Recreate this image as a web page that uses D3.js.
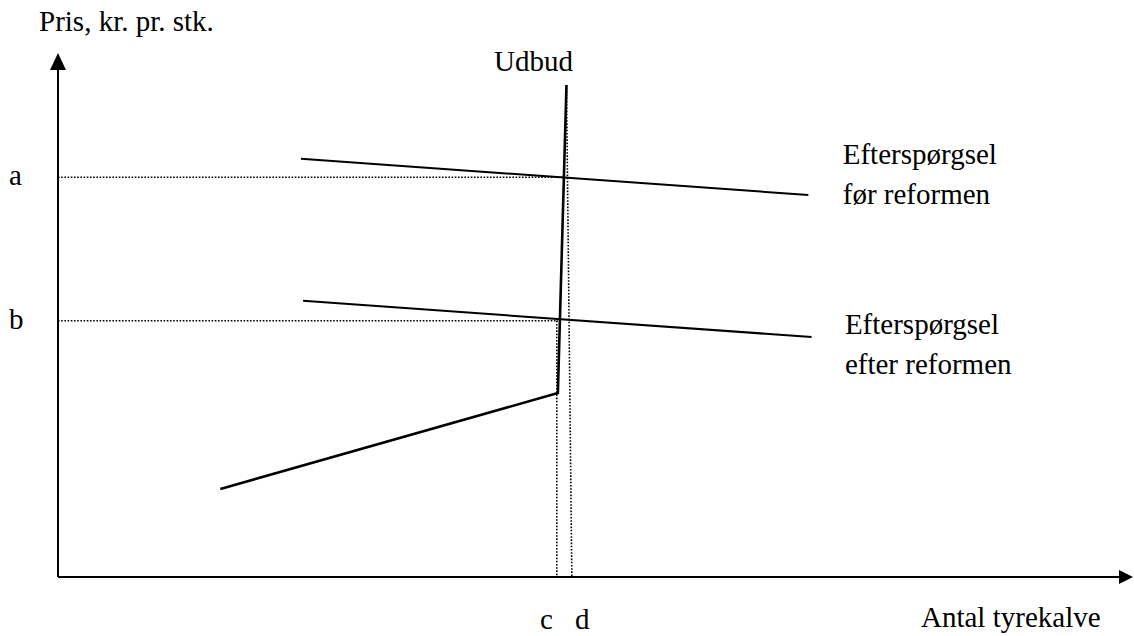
<!DOCTYPE html>
<html>
<head>
<meta charset="utf-8">
<script src="https://cdn.jsdelivr.net/npm/d3@7"></script>
<style>
  html, body { margin: 0; padding: 0; background: #fff; }
  svg text { font-family: "Times New Roman", "Liberation Serif", serif; font-size: 29px; fill: #000; }
</style>
</head>
<body>
<svg id="chart" width="1134" height="636"></svg>
<script>
// ---- data (quantity 0-100, price 0-100) ----
const supplyPoints = [[15.1, 16.8], [46.5, 35.1], [47.3, 93.9]];
const demandBefore = [[22.6, 79.8], [69.8, 72.9]];
const demandAfter = [[22.8, 52.7], [70.1, 45.8]];
const priceTicks = [{label: "a", value: 76.3, xEnd: 47.1}, {label: "b", value: 48.9, xEnd: 46.5}];
const quantityTicks = [{label: "c", top: [46.4, 48.9], bottom: [46.4, 0]},
                       {label: "d", top: [47.3, 93.9], bottom: [47.8, 0]}];
const curveLabels = [
  {lines: ["Efterspørgsel", "før reformen"], x: 73.0, y: 78.9},
  {lines: ["Efterspørgsel", "efter reformen"], x: 73.2, y: 46.4}
];
const supplyLabel = "Udbud";
const yTitle = "Pris, kr. pr. stk.";
const xTitle = "Antal tyrekalve";

const svg = d3.select("#chart");
const x = d3.scaleLinear().domain([0, 100]).range([58, 1133]);
const y = d3.scaleLinear().domain([0, 100]).range([577, 53]);
const line = d3.line().x(d => x(d[0])).y(d => y(d[1]));

// dotted guides
const dot = g => g.attr("stroke", "#000").attr("stroke-width", 1.6).attr("stroke-dasharray", "1.6,1.6").attr("fill", "none");
priceTicks.forEach(t => {
  svg.append("path").attr("d", line([[0, t.value], [t.xEnd, t.value]])).call(dot);
  svg.append("text").attr("x", 9).attr("y", y(t.value) + 8).text(t.label);
});
quantityTicks.forEach(t => {
  svg.append("path").attr("d", line([t.top, t.bottom])).call(dot);
});
svg.append("text").attr("x", 540).attr("y", 629).text(quantityTicks[0].label);
svg.append("text").attr("x", 575).attr("y", 629).text(quantityTicks[1].label);

// axes
svg.append("line").attr("x1", x(0)).attr("y1", y(0)).attr("x2", x(0)).attr("y2", y(100) + 10)
  .attr("stroke", "#000").attr("stroke-width", 2);
svg.append("line").attr("x1", x(0)).attr("y1", y(0)).attr("x2", x(100) - 10).attr("y2", y(0))
  .attr("stroke", "#000").attr("stroke-width", 2);
svg.append("path").attr("d", `M${x(0)},${y(100)} L${x(0)-8},${y(100)+17} L${x(0)+8},${y(100)+17} Z`).attr("fill", "#000");
svg.append("path").attr("d", `M${x(100)},${y(0)} L${x(100)-14},${y(0)-7} L${x(100)-14},${y(0)+7} Z`).attr("fill", "#000");

// curves
svg.append("path").attr("d", line(supplyPoints)).attr("fill", "none").attr("stroke", "#000").attr("stroke-width", 2.6).attr("stroke-linejoin", "miter");
[demandBefore, demandAfter].forEach(d => {
  svg.append("path").attr("d", line(d)).attr("fill", "none").attr("stroke", "#000").attr("stroke-width", 2);
});

// labels
svg.append("text").attr("x", 39).attr("y", 31).text(yTitle);
svg.append("text").attr("x", 921).attr("y", 627).text(xTitle);
svg.append("text").attr("x", 494).attr("y", 71).text(supplyLabel);
curveLabels.forEach(c => {
  const t = svg.append("text").attr("x", x(c.x)).attr("y", y(c.y));
  c.lines.forEach((l, i) => t.append("tspan").attr("x", x(c.x)).attr("dy", i === 0 ? 0 : 40.5).text(l));
});
</script>
</body>
</html>
